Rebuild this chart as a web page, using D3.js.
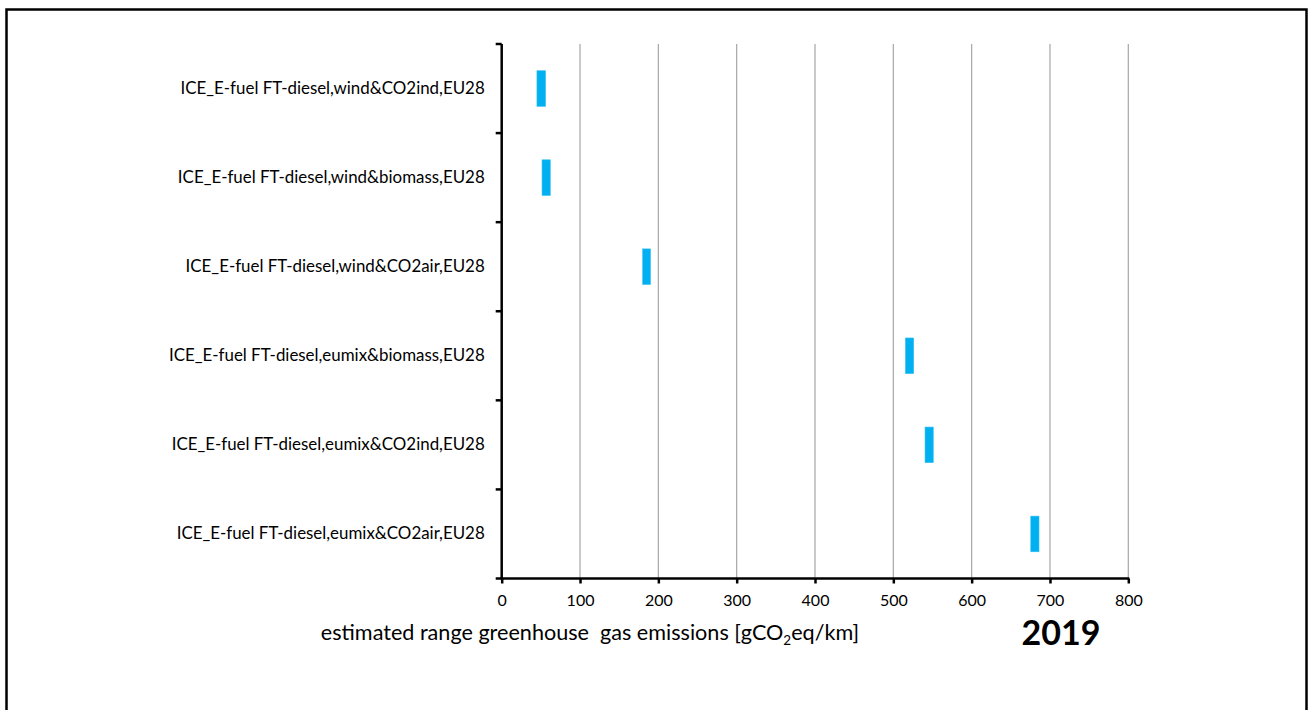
<!DOCTYPE html>
<html>
<head>
<meta charset="utf-8">
<script src="https://cdn.jsdelivr.net/npm/d3@7"></script>
<style>
  html, body { margin: 0; padding: 0; background: #fff; }
  svg { display: block; }
  text { font-family: Lato, "Open Sans", sans-serif; fill: #000; }
</style>
</head>
<body>
<svg id="chart" width="1309" height="710"></svg>
<script>
const categories = [
  "ICE_E-fuel FT-diesel,wind&CO2ind,EU28",
  "ICE_E-fuel FT-diesel,wind&biomass,EU28",
  "ICE_E-fuel FT-diesel,wind&CO2air,EU28",
  "ICE_E-fuel FT-diesel,eumix&biomass,EU28",
  "ICE_E-fuel FT-diesel,eumix&CO2ind,EU28",
  "ICE_E-fuel FT-diesel,eumix&CO2air,EU28"
];
const lowValues  = [45, 51.5, 180, 515.5, 540.5, 675.5];
const highValues = [56, 62, 190, 526, 551, 686];
const xTicks = [0, 100, 200, 300, 400, 500, 600, 700, 800];
const yearLabel = "2019";

const svg = d3.select("#chart");

// outer frame
svg.append("rect")
  .attr("x", 6.5).attr("y", 9.5)
  .attr("width", 1300).attr("height", 740)
  .attr("fill", "none").attr("stroke", "#000").attr("stroke-width", 2.5);

const x0 = 501.7, x1 = 1128.3, yTop = 44, yBot = 578.5;
const x = d3.scaleLinear().domain([0, 800]).range([x0, x1]);
const y = d3.scaleBand().domain(categories).range([yTop, yBot]).padding(0);

// gridlines
svg.append("g").selectAll("line")
  .data(xTicks.filter(t => t > 0))
  .join("line")
  .attr("x1", d => x(d)).attr("x2", d => x(d))
  .attr("y1", yTop).attr("y2", yBot)
  .attr("stroke", "#a6a6a6").attr("stroke-width", 1.2);

// bars
const data = categories.map((c, i) => ({ c, lo: lowValues[i], hi: highValues[i] }));
const barH = y.bandwidth() * 0.4;
svg.append("g").selectAll("rect")
  .data(data)
  .join("rect")
  .attr("x", d => x(d.lo))
  .attr("width", d => x(d.hi) - x(d.lo))
  .attr("y", d => y(d.c) + (y.bandwidth() - barH) / 2)
  .attr("height", barH)
  .attr("fill", "#00b0f0")
  .attr("stroke", "#33c0f3").attr("stroke-width", 0.6);

// x axis
const xAxis = d3.axisBottom(x).tickValues(xTicks).tickSize(5).tickPadding(11).tickFormat(d3.format("d"));
const gx = svg.append("g").attr("transform", `translate(0,${yBot})`).call(xAxis);
gx.select(".domain").attr("stroke", "#000").attr("stroke-width", 2.5)
  .attr("d", `M${x0 - 1},0H${x1 + 1}`);
gx.selectAll(".tick line").attr("stroke", "#000").attr("stroke-width", 2.5);
gx.selectAll(".tick text").attr("font-size", 16).attr("font-family", "Lato, sans-serif").attr("fill", "#000");

// y axis
const yAxis = d3.axisLeft(y).tickSize(0).tickPadding(17);
const gy = svg.append("g").attr("transform", `translate(${x0},0)`).call(yAxis);
gy.select(".domain").attr("stroke", "#000").attr("stroke-width", 2.5)
  .attr("d", `M0,${yTop}V${yBot}`);
gy.selectAll(".tick text").attr("font-size", 16.9).attr("font-family", "Lato, sans-serif").attr("fill", "#000");
// band boundary ticks
const bounds = categories.map(c => y(c)).concat([yBot]);
svg.append("g").selectAll("line")
  .data(bounds)
  .join("line")
  .attr("x1", x0 - 6).attr("x2", x0)
  .attr("y1", d => d).attr("y2", d => d)
  .attr("stroke", "#000").attr("stroke-width", 2.5);

// axis title
const title = svg.append("text")
  .attr("x", 590).attr("y", 640)
  .attr("text-anchor", "middle")
  .attr("font-size", 21.6)
  .attr("xml:space", "preserve");
title.append("tspan").text("estimated range greenhouse  gas emissions [gCO");
title.append("tspan").attr("font-size", 13.5).attr("dy", 4.5).text("2");
title.append("tspan").attr("dy", -4.5).text("eq/km]");

// year label
svg.append("text")
  .attr("x", 1061).attr("y", 645)
  .attr("text-anchor", "middle")
  .attr("font-size", 34).attr("font-weight", "bold")
  .text(yearLabel);
</script>
</body>
</html>
